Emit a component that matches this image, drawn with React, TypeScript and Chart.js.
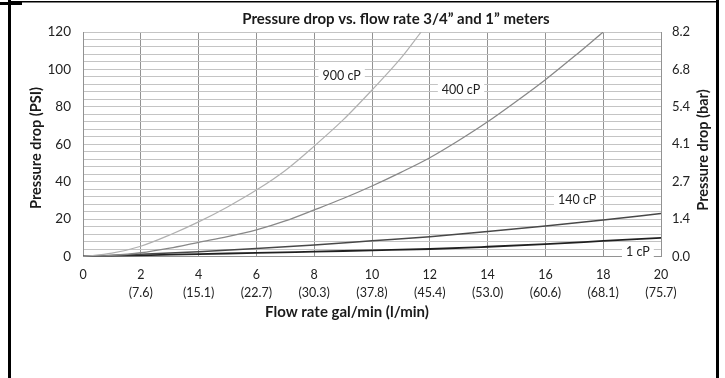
import React, { useEffect, useRef } from 'react';
import { Chart, registerables } from 'chart.js';

Chart.register(...registerables);

// ---- text ----
const chartTitle = 'Pressure drop vs. flow rate 3/4\u201D and 1\u201D meters';
const xAxisTitle = 'Flow rate gal/min (l/min)';
const yLeftTitle = 'Pressure drop (PSI)';
const yRightTitle = 'Pressure drop (bar)';

// ---- ticks ----
const xTickValues = [0, 2, 4, 6, 8, 10, 12, 14, 16, 18, 20];
const xTickLitres = ['', '(7.6)', '(15.1)', '(22.7)', '(30.3)', '(37.8)', '(45.4)', '(53.0)', '(60.6)', '(68.1)', '(75.7)'];
const psiTicks = [0, 20, 40, 60, 80, 100, 120];
const barTickLabels = ['0.0', '1.4', '2.7', '4.1', '5.4', '6.8', '8.2'];

// ---- series ----
const seriesNames = ['900 cP', '400 cP', '140 cP', '1 cP'];

const flow900 = [0, 1, 2, 3, 4, 5, 6, 7, 8, 9, 10, 11, 11.7];
const psi900 = [0, 1.8, 5.5, 11.5, 18.5, 26.5, 35.5, 46, 59, 73, 89, 106, 120];

const flow400 = [0, 1, 2, 3, 4, 5, 6, 7, 8, 9, 10, 11, 12, 13, 14, 15, 16, 17, 18];
const psi400 = [0, 0.6, 2, 4.5, 7.6, 10.6, 14.2, 19, 24.9, 31, 37.7, 45, 52.8, 62, 72, 83, 94.5, 107, 120];

const flowLow = [0, 2, 4, 6, 8, 10, 12, 14, 16, 18, 20];
const psi140 = [0, 1.2, 2.6, 4.3, 6.2, 8.4, 10.6, 13.3, 16.3, 19.5, 23];
const psi1 = [0, 0.6, 1.3, 1.9, 2.6, 3.3, 4.0, 5.2, 6.6, 8.3, 10];

// curve label anchors in data units (gal/min, PSI)
const labelX = [8.95, 13.08, 17.1, 19.2];
const labelY = [96.5, 89, 30.2, 2.4];

const seriesColors = ['#b0b0b0', '#888888', '#484848', '#202020'];
const seriesWidths = [1.2, 1.3, 1.5, 1.8];

const FONT = 'Lato, "Open Sans", sans-serif';

function pts(xs: number[], ys: number[]) {
  return xs.map((x, i) => ({ x, y: ys[i] }));
}

const decorPlugin = {
  id: 'decor',
  afterDatasetsDraw(chart: any) {
    const { ctx, scales } = chart;
    const xs = scales.x;
    const ys = scales.y;
    ctx.save();
    ctx.font = `12.5px ${FONT}`;
    ctx.textAlign = 'center';
    ctx.textBaseline = 'middle';
    seriesNames.forEach((name, i) => {
      const px = xs.getPixelForValue(labelX[i]);
      const py = ys.getPixelForValue(labelY[i]);
      const w = ctx.measureText(name).width;
      ctx.fillStyle = '#ffffff';
      ctx.fillRect(px - w / 2 - 4, py - 8, w + 8, 16);
      ctx.fillStyle = '#222222';
      ctx.fillText(name, px, py);
    });
    ctx.restore();
  },
  afterDraw(chart: any) {
    const { ctx } = chart;
    ctx.save();
    ctx.fillStyle = '#1a1a1a';
    ctx.font = `bold 15px ${FONT}`;
    ctx.textAlign = 'center';
    ctx.textBaseline = 'middle';
    ctx.fillText(chartTitle, 396, 19);
    ctx.fillText(xAxisTitle, 347, 312);
    ctx.font = `bold 14.5px ${FONT}`;
    ctx.save();
    ctx.translate(36, 148);
    ctx.rotate(-Math.PI / 2);
    ctx.fillText(yLeftTitle, 0, 0);
    ctx.restore();
    ctx.save();
    ctx.translate(703, 150);
    ctx.rotate(-Math.PI / 2);
    ctx.fillText(yRightTitle, 0, 0);
    ctx.restore();
    // frame lines of the page box
    ctx.fillStyle = '#000000';
    ctx.fillRect(8, 0, 3, 378);
    ctx.fillRect(716, 0, 3, 378);
    ctx.fillRect(8, 1, 711, 1.5);
    ctx.fillRect(0, 2, 22, 3);
    ctx.restore();
  },
};

export default function App() {
  const canvasRef = useRef<HTMLCanvasElement | null>(null);

  useEffect(() => {
    if (!canvasRef.current) return;
    const chart = new Chart(canvasRef.current, {
      type: 'line',
      data: {
        datasets: [
          { label: seriesNames[0], data: pts(flow900, psi900) },
          { label: seriesNames[1], data: pts(flow400, psi400) },
          { label: seriesNames[2], data: pts(flowLow, psi140) },
          { label: seriesNames[3], data: pts(flowLow, psi1) },
        ].map((d, i) => ({
          ...d,
          borderColor: seriesColors[i],
          borderWidth: seriesWidths[i],
          pointRadius: 0,
          fill: false,
          cubicInterpolationMode: 'monotone' as const,
        })),
      },
      options: {
        animation: false,
        responsive: true,
        maintainAspectRatio: false,
        layout: { padding: { top: 32, left: 0, right: 0, bottom: 0 } },
        plugins: {
          legend: { display: false },
          title: { display: false },
          tooltip: { enabled: false },
        },
        scales: {
          x: {
            type: 'linear',
            min: 0,
            max: 20,
            afterFit: (s: any) => { s.height = 121.5; },
            afterBuildTicks: (s: any) => { s.ticks = xTickValues.map((v) => ({ value: v })); },
            grid: { color: '#929292', lineWidth: 1, drawTicks: false },
            border: { display: true, color: '#929292' },
            ticks: {
              autoSkip: false,
              maxRotation: 0,
              padding: 10,
              color: '#222222',
              font: { family: FONT, size: 12.5, lineHeight: 1.4 },
              callback: (v: any) => {
                const i = xTickValues.indexOf(Number(v));
                return xTickLitres[i] ? [String(v), xTickLitres[i]] : String(v);
              },
            },
          },
          y: {
            type: 'linear',
            position: 'left',
            min: 0,
            max: 120,
            afterFit: (s: any) => { s.width = 83; },
            grid: { color: '#c4c4c4', lineWidth: 1, drawTicks: false },
            border: { display: true, color: '#929292' },
            ticks: {
              stepSize: 4,
              maxTicksLimit: 100,
              autoSkip: false,
              padding: 12,
              color: '#222222',
              font: { family: FONT, size: 13.5 },
              callback: (v: any) => (psiTicks.includes(Number(v)) ? String(v) : ''),
            },
          },
          y2: {
            type: 'linear',
            position: 'right',
            min: 0,
            max: 120,
            afterFit: (s: any) => { s.width = 64; },
            grid: { display: false, drawTicks: false },
            border: { display: false },
            ticks: {
              stepSize: 20,
              autoSkip: false,
              padding: 11,
              color: '#222222',
              font: { family: FONT, size: 13 },
              callback: (v: any) => {
                const i = psiTicks.indexOf(Number(v));
                return i >= 0 ? barTickLabels[i] : '';
              },
            },
          },
        },
      } as any,
      plugins: [decorPlugin],
    });
    return () => chart.destroy();
  }, []);

  return (
    <div style={{ position: 'absolute', left: 0, top: 0, width: 725, height: 378, background: '#ffffff' }}>
      <canvas ref={canvasRef} />
    </div>
  );
}
